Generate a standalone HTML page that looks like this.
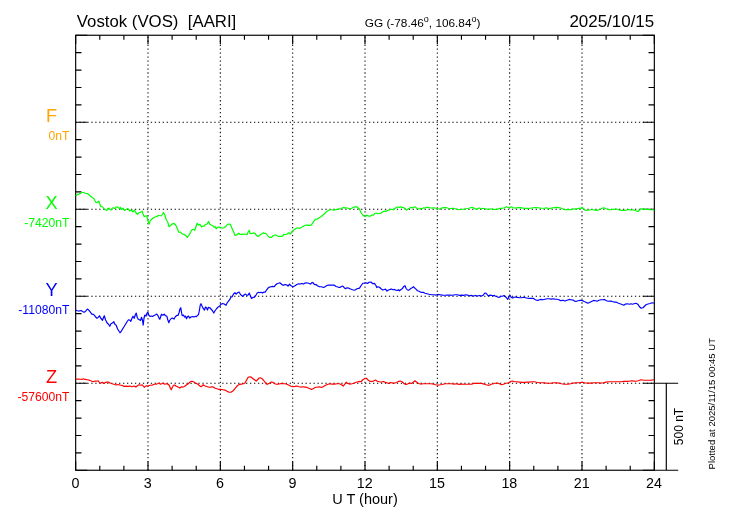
<!DOCTYPE html>
<html lang="en">
<head>
<meta charset="utf-8">
<title>Vostok (VOS) magnetogram 2025/10/15</title>
<style>
html,body{margin:0;padding:0;background:#fff;}
svg{display:block;will-change:transform;}
text{font-family:"Liberation Sans",Arial,Helvetica,sans-serif;fill:#000;}
.fr{stroke:#000;stroke-width:1.15;fill:none;}
.dot{stroke:#000;stroke-width:1.05;fill:none;}
.cv{fill:none;stroke-width:1.2;stroke-linejoin:round;stroke-linecap:butt;}
</style>
</head>
<body>
<svg width="730" height="520" viewBox="0 0 730 520">
<rect x="0" y="0" width="730" height="520" fill="#fff"/>
<g class="dot">
<line x1="148" y1="35.25" x2="148" y2="470.25" stroke-dasharray="1.3 2.666" stroke-dashoffset="-1.4"/>
<line x1="220.34" y1="35.25" x2="220.34" y2="470.25" stroke-dasharray="1.3 2.666" stroke-dashoffset="-1.4"/>
<line x1="292.67" y1="35.25" x2="292.67" y2="470.25" stroke-dasharray="1.3 2.666" stroke-dashoffset="-1.4"/>
<line x1="365" y1="35.25" x2="365" y2="470.25" stroke-dasharray="1.3 2.666" stroke-dashoffset="-1.4"/>
<line x1="437.33" y1="35.25" x2="437.33" y2="470.25" stroke-dasharray="1.3 2.666" stroke-dashoffset="-1.4"/>
<line x1="509.67" y1="35.25" x2="509.67" y2="470.25" stroke-dasharray="1.3 2.666" stroke-dashoffset="-1.4"/>
<line x1="582" y1="35.25" x2="582" y2="470.25" stroke-dasharray="1.3 2.666" stroke-dashoffset="-1.4"/>
<line x1="75.67" y1="122.25" x2="654.33" y2="122.25" stroke-dasharray="1.3 2.668" stroke-dashoffset="0.26"/>
<line x1="75.67" y1="209.25" x2="654.33" y2="209.25" stroke-dasharray="1.3 2.668" stroke-dashoffset="0.26"/>
<line x1="75.67" y1="296.25" x2="654.33" y2="296.25" stroke-dasharray="1.3 2.668" stroke-dashoffset="0.26"/>
<line x1="75.67" y1="383.25" x2="654.33" y2="383.25" stroke-dasharray="1.3 2.668" stroke-dashoffset="0.26"/>
</g>
<g class="fr">
<rect x="75.67" y="35.25" width="578.66" height="435"/>
<path d="M75.67 35.25v8.7M75.67 470.25v-8.7M99.78 35.25v4.5M99.78 470.25v-4.5M123.89 35.25v4.5M123.89 470.25v-4.5M148 35.25v8.7M148 470.25v-8.7M172.11 35.25v4.5M172.11 470.25v-4.5M196.22 35.25v4.5M196.22 470.25v-4.5M220.34 35.25v8.7M220.34 470.25v-8.7M244.45 35.25v4.5M244.45 470.25v-4.5M268.56 35.25v4.5M268.56 470.25v-4.5M292.67 35.25v8.7M292.67 470.25v-8.7M316.78 35.25v4.5M316.78 470.25v-4.5M340.89 35.25v4.5M340.89 470.25v-4.5M365 35.25v8.7M365 470.25v-8.7M389.11 35.25v4.5M389.11 470.25v-4.5M413.22 35.25v4.5M413.22 470.25v-4.5M437.33 35.25v8.7M437.33 470.25v-8.7M461.44 35.25v4.5M461.44 470.25v-4.5M485.55 35.25v4.5M485.55 470.25v-4.5M509.67 35.25v8.7M509.67 470.25v-8.7M533.78 35.25v4.5M533.78 470.25v-4.5M557.89 35.25v4.5M557.89 470.25v-4.5M582 35.25v8.7M582 470.25v-8.7M606.11 35.25v4.5M606.11 470.25v-4.5M630.22 35.25v4.5M630.22 470.25v-4.5M654.33 35.25v8.7M654.33 470.25v-8.7M75.67 35.25h11.6M654.33 35.25h-11.6M75.67 52.65h5.8M654.33 52.65h-5.8M75.67 70.05h5.8M654.33 70.05h-5.8M75.67 87.45h5.8M654.33 87.45h-5.8M75.67 104.85h5.8M654.33 104.85h-5.8M75.67 122.25h11.6M654.33 122.25h-11.6M75.67 139.65h5.8M654.33 139.65h-5.8M75.67 157.05h5.8M654.33 157.05h-5.8M75.67 174.45h5.8M654.33 174.45h-5.8M75.67 191.85h5.8M654.33 191.85h-5.8M75.67 209.25h11.6M654.33 209.25h-11.6M75.67 226.65h5.8M654.33 226.65h-5.8M75.67 244.05h5.8M654.33 244.05h-5.8M75.67 261.45h5.8M654.33 261.45h-5.8M75.67 278.85h5.8M654.33 278.85h-5.8M75.67 296.25h11.6M654.33 296.25h-11.6M75.67 313.65h5.8M654.33 313.65h-5.8M75.67 331.05h5.8M654.33 331.05h-5.8M75.67 348.45h5.8M654.33 348.45h-5.8M75.67 365.85h5.8M654.33 365.85h-5.8M75.67 383.25h11.6M654.33 383.25h-11.6M75.67 400.65h5.8M654.33 400.65h-5.8M75.67 418.05h5.8M654.33 418.05h-5.8M75.67 435.45h5.8M654.33 435.45h-5.8M75.67 452.85h5.8M654.33 452.85h-5.8M75.67 470.25h11.6M654.33 470.25h-11.6"/>
<path d="M654.33 383.25H678.2M654.33 470.25H678.2M666.3 383.25V470.25"/>
</g>
<polyline class="cv" stroke="#00ff00" points="75.67,196.05 77.5,194.45 79,194.05 80.5,193.25 82,192.75 83.5,192.25 85,193.25 87.5,193.55 89.5,195.25 91.5,197.05 94,198.75 95,200.75 96.2,202.75 97.5,202.25 98.8,201.05 99.5,203.25 100.8,206.75 102.5,206.75 104,208.75 105.5,209.75 106.8,210.45 108,208.75 109,208.05 110.2,209.75 111,210.05 112.2,208.05 113.5,207.75 115,208.75 116,207.05 117,206.75 118.5,207.75 119.8,208.75 120.5,207.25 121.5,209.45 122.8,208.25 124.5,210.45 126,209.45 127.5,208.75 128.5,209.05 129.8,211.05 131.2,210.05 133,211.75 134.5,210.05 136,212.75 137.5,214.25 139,212.75 140.5,212.25 142.2,211.25 143,213.75 144.2,216.75 146,215.75 146.8,216.05 147.8,220.25 149,224.25 150,221.25 151.2,219.75 153.5,217.75 155.5,216.75 157,216.75 158.5,215.25 160,215.75 161.5,215.75 162.5,214.25 163.5,212.45 164.8,214.75 166.2,219.75 167.8,222.25 169,226.75 170.8,225.25 172.5,223.75 174,223.45 175.5,224.75 177.2,228.25 178.8,232.25 180.5,232.05 182.5,234.05 184.2,234.45 186,235.75 187.5,237.25 189,235.25 190.5,232.25 191.8,230.05 193.2,229.25 194.8,230.25 196,226.75 197.2,223.25 198.5,225.25 200,224.25 201.5,227.05 202.8,226.05 204.2,226.05 205.5,224.25 207,224.25 208.5,221.45 209.8,224.25 211.5,225.25 212.8,225.75 214,227.25 215,226.45 216.2,228.75 217.5,227.25 219,227.05 220.5,227.45 222.5,228.25 224.5,227.45 226,226.25 227.5,224.25 229,224.05 230.5,224.45 231.5,227.25 232.8,230.25 234,232.75 235,235.45 236.5,235.05 237.8,234.05 238.8,233.05 239.8,234.45 241.5,234.45 243.5,234.05 245.5,234.25 247,234.75 248.2,231.75 249.2,230.45 250.2,233.75 252,233.45 253.5,233.05 254.8,233.05 256.2,235.05 258,236.45 259.5,235.45 261,234.25 262.5,233.45 263.5,232.75 264.5,233.45 265.8,233.25 267,234.75 268.5,236.75 270,237.45 271.5,237.25 273,235.75 274.5,235.25 275.5,234.75 277,235.75 278.5,236.45 280.5,236.45 282.5,236.05 284,234.25 285.2,234.75 287,234.05 288.8,232.75 290.5,234.05 292,231.45 294,229.75 296,228.45 297.8,227.75 299.5,228.45 301,227.45 303,226.45 305,225.25 307,225.05 309,225.45 310.8,225.45 312.2,223.75 314,221.05 315.5,219.05 317,219.25 318.5,218.25 320.5,217.05 322.5,215.45 324.5,213.75 326,212.05 328,210.75 330,209.75 332,209.75 334,210.25 336,209.55 338.5,209.05 341,208.55 342.5,208.05 343.8,207.25 345,208.05 346.5,207.75 348,208.25 349.8,209.05 351.5,208.25 353.5,207.25 355,206.85 356.8,206.75 358.2,208.05 359.5,209.05 360.8,212.25 362.5,214.75 364,216.05 365.5,216.45 366.8,215.25 368.5,216.05 370.5,216.05 372,215.05 373.5,215.05 375,213.45 376.2,213.05 377.8,213.75 379.5,213.45 381,213.05 382.5,212.05 384.5,211.05 386,211.45 387.5,210.45 389,210.05 390.5,209.25 392,209.45 393.5,209.75 395,208.45 396.5,207.25 398,207.05 399.5,207.45 400.8,206.75 402,207.45 403.5,207.45 405,208.75 406.5,210.05 408,209.05 409.5,208.25 410.8,207.25 412,208.05 413.5,207.25 414.8,206.75 416.2,207.75 417.5,208.75 419,209.05 420.5,208.45 422,208.75 423.5,207.75 425,208.05 426.5,207.45 428,207.25 430,207.75 432,208.05 434,207.75 436,208.25 438,208.75 440,209.05 441.5,208.05 443.5,207.55 446,207.55 448,208.25 450,208.75 452,208.25 454,208.45 456,209.05 458.5,209.75 461,209.25 463.5,209.05 466,208.75 468.5,208.25 470.5,207.75 472.5,207.45 474.5,208.25 476.5,209.45 478,208.45 479.5,208.05 481,208.75 483,208.25 485,208.75 487,209.05 489,209.45 491,208.75 493,209.25 495,209.45 497.5,209.05 500,208.45 502.5,208.25 504.5,207.75 506.5,206.75 508.5,207.75 510,207.45 511.5,206.75 513.5,207.75 515.5,208.05 518,207.55 520.5,207.55 523,208.05 525.5,208.45 528,208.45 530.5,208.25 533,207.75 535.5,207.55 538,207.75 540.5,208.05 543,208.25 545,208.05 546.5,207.75 548.5,208.75 550.5,208.45 552.5,207.75 555,207.55 557.5,207.45 560,207.75 562,208.45 564,209.45 565,209.75 568,209.45 571,209.75 573.5,208.75 576,209.05 578.5,208.45 580.5,208.05 582.2,207.55 583.5,208.75 585.5,210.45 588,210.25 590.5,209.75 593,209.75 595,210.05 597,210.45 599.5,209.45 602,208.25 604,207.75 606,208.75 608,209.45 610.5,209.75 613,209.45 615.5,209.05 617.5,209.25 619.5,210.05 622,210.45 624.5,210.45 626.5,210.05 628.5,209.45 630.5,210.05 632.5,209.75 634.5,210.25 636.5,211.05 638,211.45 639.5,210.05 641,208.75 643,209.05 645.5,209.45 648,209.45 650.5,209.75 652.5,209.75 654.33,210.05"/>
<polyline class="cv" stroke="#0000ff" points="75.67,310.25 77.5,310.75 79.2,311.05 81,310.45 82.5,311.45 84,312.25 85.5,311.45 86.8,309.75 87.7,309.05 89,310.45 90.5,312.45 92,314.25 93.5,314.45 95,316.05 96.8,318.25 98.2,317.45 99.5,315.75 100.8,318.25 102.5,320.25 103.5,317.45 104.3,315.75 105.5,319.75 107,322.75 108.5,324.25 109.8,326.25 111,323.75 112.5,323.05 113.8,321.75 115,324.45 116.2,325.25 117.5,328.75 119,331.25 120,332.75 121.2,331.45 122.5,329.05 124,326.75 125.5,324.25 127,321.75 128.5,319.75 129.8,320.05 130.8,321.25 132,318.25 133,316.25 134.2,318.25 135.2,315.25 136.2,313.05 137.2,317.25 138.2,319.25 139.5,319.75 140.5,320.45 141.5,317.25 142.5,320.25 143.2,325.05 144,318.25 144.8,315.05 146,316.05 147,313.25 147.8,312.05 148.8,315.05 150,316.45 151.2,316.05 152.5,316.45 154,315.45 155.5,314.75 156.8,314.05 158,315.75 159,318.05 159.8,319.25 160.8,316.25 161.5,314.25 162.8,315.25 164.2,314.25 165.5,315.75 166.8,316.05 167.8,319.75 168.8,322.75 169.8,320.25 171,318.75 172.5,318.05 174,319.05 175.5,316.45 176.8,315.45 178,315.45 179.2,312.25 180,308.75 180.8,307.75 181.5,312.25 182.2,315.75 183.5,315.05 184.5,317.05 185.5,316.05 186.5,318.75 187.5,316.75 188.5,316.05 189.8,318.05 191,317.05 192.5,316.45 194,317.05 195.5,316.25 196.5,316.75 197.5,315.25 198.5,314.75 199.5,309.75 200.2,305.25 201,303.75 202,306.05 203.2,308.45 204.5,310.05 205.5,307.05 206.5,307.75 207.5,310.05 208.5,307.25 209.8,307.75 211.2,309.25 212.5,310.75 213.8,313.05 215,310.75 216.5,308.75 218,307.05 219.5,306.25 220.8,304.45 222.5,303.45 224.2,304.05 226,305.25 227.2,302.75 228.5,301.05 229.8,299.45 231,297.05 232.2,296.75 233.5,294.05 235,292.75 236.2,294.05 237.5,292.75 239,292.05 240.5,294.45 241.8,295.75 243,296.25 244.5,294.45 245.5,294.05 246.8,295.45 248,295.05 249.3,293.05 250.5,296.25 251.5,298.45 253,297.45 254.5,297.05 256,295.05 257.2,293.05 258.5,292.25 259.8,292.75 261,292.25 262.5,293.05 264,292.05 265.2,292.25 266.5,290.05 268,288.05 269.5,287.05 271,286.75 272.5,286.45 274,286.75 275.5,285.05 277,283.75 278.5,283.25 279.8,282.75 281,283.75 282.5,285.05 284,285.05 285,284.65 286.5,284.75 288,286.05 289.5,284.25 291,285.75 293,286.75 295,285.75 296.8,284.45 298.5,283.75 300,284.05 301.8,283.45 303.5,284.05 305,283.05 306.5,282.75 308.5,283.25 310.5,284.05 311.8,282.75 312.8,282.45 314,284.05 315,284.75 316,284.45 317.5,285.75 319.5,286.75 321.5,286.75 323.5,287.45 325,286.75 326.5,285.75 328.2,285.05 330,285.05 332,285.05 334,285.05 336,286.45 338,287.05 339.8,287.45 341.5,286.45 342.8,286.05 344,287.45 345.5,288.75 347,287.75 348.5,288.05 350.5,289.05 352.5,289.75 354.5,290.25 355,290.05 357,288.75 359.5,288.05 361,285.75 362.8,283.25 364.5,283.05 366,282.75 367.5,283.45 369,282.25 371,282.05 372.8,283.75 374.5,283.45 375.8,285.25 376.8,287.45 378,286.75 379.5,287.25 381,288.75 382.8,290.05 384.5,289.45 385.5,289.05 387,291.05 388.5,290.05 390,289.45 391.5,289.05 393,289.75 394.5,289.45 396,290.25 397.5,290.45 398.5,289.75 399.5,290.75 401,289.45 402.5,288.45 403.8,286.45 405,285.75 406,288.25 407.2,289.75 408.5,290.25 409.8,289.45 411,288.25 412.2,287.75 413.5,286.75 414.8,288.05 416.2,289.45 417.5,290.75 419,291.25 420.5,292.05 422,292.45 423.5,292.45 425,293.25 427,293.75 429,294.25 431.5,294.75 434,294.75 436,295.05 437.8,294.45 440,294.75 442.5,295.05 445,295.25 447.5,295.05 450,295.05 452.5,295.25 455,294.75 457.5,294.75 459.5,295.45 461.5,295.05 463.5,295.45 465.5,294.75 467.5,295.05 469.5,295.75 471.5,295.45 473.5,296.05 475.5,295.45 477.5,296.05 479.5,295.45 481.5,296.05 483.2,295.25 484.5,293.25 485.8,293.05 487,294.45 488.5,296.05 490,295.05 491.5,295.45 493,295.75 494.5,295.45 495,296.05 497,296.75 499,297.45 500.8,296.25 502.5,296.25 504,295.45 505.5,296.75 506.8,298.05 507.8,299.25 509,296.75 510,295.45 511.2,297.25 512.5,298.05 514,297.25 515.5,297.05 517.5,297.45 519.5,297.75 521.5,297.75 523.5,297.25 525.5,297.75 527.5,298.25 529.5,298.45 531.5,298.25 533.5,298.45 535,299.45 536.5,300.25 537.8,300.45 539.5,299.75 541,299.45 543,299.75 545,299.25 547,298.75 549,298.75 551,299.05 553,298.75 555,299.05 557,299.25 559,299.75 560.5,300.75 562,300.45 563.5,300.45 565,301.05 567,300.25 569,299.45 571,299.75 573,300.05 574.5,301.05 576,301.45 578,300.75 580,300.45 582,300.25 584,301.45 586,302.25 587.8,303.25 589.5,302.45 591.5,301.45 593.5,300.45 595.5,300.75 597,301.25 599,300.25 601,299.75 603,299.75 604.5,299.45 606,300.45 608,301.25 610,301.05 612,301.45 614,302.05 616,302.05 618,303.05 620,303.75 622,304.45 623.8,305.25 625.5,304.05 627.5,303.75 629.5,304.25 631,303.75 632.5,304.25 634,303.75 635.8,303.25 637,303.75 638,304.45 639.5,306.75 641.2,308.25 643,307.75 644.5,306.25 646,304.75 648,304.05 650,303.45 652,302.75 654.33,303.25"/>
<polyline class="cv" stroke="#ff0000" points="75.67,379.25 78,379.05 80.5,379.25 82,379.45 83.5,378.75 85,379.45 87.5,379.75 90,380.45 92,381.25 93.5,381.75 95,381.05 96.5,381.25 98.2,380.75 99.5,382.75 100.8,383.05 102.2,382.25 103.8,383.45 105.5,382.45 107,382.05 108.5,382.05 110,383.05 112,383.75 114,384.25 116,385.05 118,384.45 120,385.05 122,385.25 124,386.45 126,386.05 128,386.45 130,386.05 132,386.75 134,386.05 135.8,387.05 137.5,385.75 139,384.75 140.8,385.25 142.2,384.75 143.5,386.45 144.5,387.25 145,386.45 146.5,385.75 148,386.05 150,385.25 152,385.25 154,384.25 156,384.05 157.5,383.75 159,383.05 160.5,384.25 161.8,383.75 163,383.05 164.5,384.25 166.2,383.75 168,384.05 169.2,385.25 170.2,387.75 171.2,389.75 172.2,387.45 173.5,385.25 174.8,385.05 176.2,386.25 178,387.05 179.8,388.05 181.5,386.75 183,387.05 184.5,386.45 186,385.25 187.5,384.25 189,383.05 190.5,381.75 191.8,381.25 193.5,381.75 195,382.75 196.5,383.45 198,384.25 199.5,385.75 201,386.75 202.2,385.75 203.2,384.75 204.5,385.75 206,386.25 207.5,386.75 209,387.25 210.5,387.05 212,386.75 213.5,387.05 215,388.25 217,388.75 219,389.45 221,389.45 223,389.75 225,390.05 227,391.25 229,392.25 231,392.25 232.8,391.05 234.5,389.25 236.2,387.05 237.8,385.25 239.5,384.45 241.5,384.05 243.5,383.75 245,383.05 246.5,380.25 248,377.45 249.5,376.75 251,377.05 252.8,378.45 254.5,379.75 256.2,381.05 257.5,379.75 258.8,378.25 260.2,377.75 261.8,378.45 263.5,380.25 265,382.25 266.5,384.05 268,384.05 269.8,383.05 271.2,382.05 272.8,382.25 274.5,383.45 276.2,384.25 278,384.25 280,383.75 282,383.45 284,383.75 285,383.75 287,384.25 289,385.25 291,386.25 293,386.75 295,386.45 297,386.05 299,386.75 301,387.05 303,386.75 305,387.05 307,387.45 309.5,388.45 311.5,389.45 313.5,388.45 315.5,387.25 317.5,387.05 319.5,386.75 321.5,387.45 323.5,386.45 325.5,385.25 327.5,384.45 329.5,383.75 332,384.05 334.5,384.05 337,383.75 339.5,383.75 341.5,384.75 343.2,386.05 344.8,384.05 346.2,382.25 347.8,383.45 350,384.05 352,383.75 354,383.25 355,382.75 357,382.05 359,381.45 361,381.75 362.8,379.75 364.5,378.75 366.2,378.25 367.8,379.75 369.5,381.05 371.5,381.45 373.5,381.05 375.5,380.05 377.2,381.25 379.5,381.75 381.5,382.05 383.5,381.45 385.5,382.45 387,382.75 388.5,383.45 390.5,382.45 392.5,383.05 394.5,383.05 396.5,382.45 398.5,381.45 400.2,381.05 402,381.75 403.8,383.25 405.5,384.45 407.5,384.05 409.5,383.05 411.5,383.45 413.2,382.25 415,380.75 416.5,382.05 418.5,383.45 420.5,384.05 423,383.75 425,383.75 428,383.75 431,383.75 433.5,384.05 435.5,384.75 438,385.05 440.5,384.75 443,384.25 445.5,383.75 448.5,383.75 451.5,383.75 454,384.05 456.5,383.75 459,384.45 461.5,384.05 464,384.25 466.5,384.25 469,384.25 471.5,384.05 474,383.45 476.5,383.25 479,383.45 481.5,383.45 484,384.05 486,384.75 488,385.05 489.5,385.25 491,384.25 493.5,383.75 495,383.25 497.5,383.05 499.5,383.75 501.5,384.75 503.5,384.25 505.5,383.25 507.5,383.05 509.5,382.45 511,381.25 512.5,381.05 514.5,381.75 517,381.75 519.5,382.05 522,382.45 524.5,382.45 527,382.05 529.5,382.05 532,381.75 534.5,381.75 536.5,382.25 539,382.75 541.5,382.75 544,382.75 546.5,383.05 549,383.25 551.5,383.05 554,382.75 556.5,382.75 559,383.05 561.5,383.75 564,384.25 565,384.25 568,384.05 570.5,383.75 573,383.05 576,382.75 579,382.75 582,382.25 584.5,382.75 587.5,383.05 591,383.05 594.5,382.75 598,382.75 600.5,383.05 603.5,382.75 606,382.05 609,381.75 612,381.75 615,381.75 618,381.75 621,381.75 624,381.45 627,381.45 629.5,381.25 631.5,380.75 634,381.05 636,381.25 638,380.75 641,379.75 644,380.25 648,380.25 651,380.05 654.33,379.75"/>
<text x="76.8" y="26.6" font-size="16.8">Vostok (VOS)&#160;&#160;[AARI]</text>
<text x="364.8" y="27" font-size="11.8">GG (-78.46<tspan font-size="9" dy="-5.1">o</tspan><tspan dy="5.1">, 106.84</tspan><tspan font-size="9" dy="-5.1">o</tspan><tspan dy="5.1">)</tspan></text>
<text x="654.2" y="26.6" font-size="16.95" text-anchor="end">2025/10/15</text>
<text x="75.37" y="487.8" font-size="14.3" text-anchor="middle">0</text>
<text x="147.7" y="487.8" font-size="14.3" text-anchor="middle">3</text>
<text x="220.04" y="487.8" font-size="14.3" text-anchor="middle">6</text>
<text x="292.37" y="487.8" font-size="14.3" text-anchor="middle">9</text>
<text x="364.7" y="487.8" font-size="14.3" text-anchor="middle">12</text>
<text x="437.03" y="487.8" font-size="14.3" text-anchor="middle">15</text>
<text x="509.37" y="487.8" font-size="14.3" text-anchor="middle">18</text>
<text x="581.7" y="487.8" font-size="14.3" text-anchor="middle">21</text>
<text x="654.03" y="487.8" font-size="14.3" text-anchor="middle">24</text>
<text x="365" y="504" font-size="14.5" text-anchor="middle">U T (hour)</text>
<text x="51.6" y="122" font-size="18.2" text-anchor="middle" style="fill:#ffa500">F</text>
<text x="69.4" y="140.2" font-size="12.15" text-anchor="end" style="fill:#ffa500">0nT</text>
<text x="51.6" y="209" font-size="18.2" text-anchor="middle" style="fill:#00ff00">X</text>
<text x="69.4" y="227.2" font-size="12.15" text-anchor="end" style="fill:#00ff00">-7420nT</text>
<text x="51.6" y="296" font-size="18.2" text-anchor="middle" style="fill:#0000ff">Y</text>
<text x="69.4" y="314.2" font-size="12.15" text-anchor="end" style="fill:#0000ff">-11080nT</text>
<text x="51.6" y="383" font-size="18.2" text-anchor="middle" style="fill:#ff0000">Z</text>
<text x="69.4" y="401.2" font-size="12.15" text-anchor="end" style="fill:#ff0000">-57600nT</text>
<text transform="translate(683.2 426.5) rotate(-90)" font-size="12" text-anchor="middle">500 nT</text>
<text transform="translate(714.9 469.4) rotate(-90)" font-size="9.5">Plotted at 2025/11/15 00:45 UT</text>
</svg>
</body>
</html>
